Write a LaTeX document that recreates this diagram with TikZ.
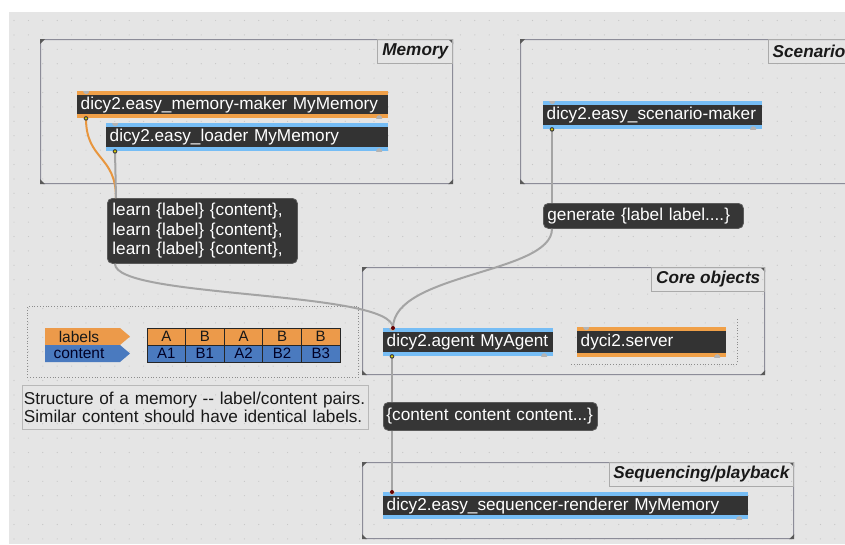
\documentclass[tikz,border=0pt]{standalone}
\usepackage{fontspec}
\setmainfont{Liberation Sans}
\usepackage{xcolor}

\definecolor{patchbg}{HTML}{E5E5E5}
\definecolor{griddot}{HTML}{C6C6C6}
\definecolor{objdark}{HTML}{333333}
\definecolor{objorange}{HTML}{F0A048}
\definecolor{objblue}{HTML}{76BDF5}
\definecolor{inletgray}{HTML}{B4B4B4}
\definecolor{panelline}{HTML}{8C8C98}
\definecolor{titleline}{HTML}{AAAAAA}
\definecolor{msgfill}{HTML}{363636}
\definecolor{msgline}{HTML}{5A5A5A}
\definecolor{cablegray}{HTML}{A4A4A4}
\definecolor{cableorange}{HTML}{E8963E}
\definecolor{taborange}{HTML}{EC9A4A}
\definecolor{tabblue}{HTML}{4A7ABF}
\definecolor{noteline}{HTML}{B8B8B8}

\newcommand\patchfont{\fontsize{17.2}{19.6}\selectfont}

\tikzset{
  maxobj/.style={anchor=north west, fill=#1, inner xsep=3.5pt, inner ysep=0pt,
    minimum height=28pt, text=white, align=left, font=\patchfont,
    path picture={
      \fill[objdark] ([yshift=-4pt]path picture bounding box.north west)
        rectangle ([yshift=4pt]path picture bounding box.south east);
      \fill[inletgray] ([xshift=9pt]path picture bounding box.north west) circle (3pt);
      \fill[inletgray] ([xshift=-9pt]path picture bounding box.south east) circle (3pt);
    }},
  msgbox/.style={anchor=north west, rounded corners=5pt, fill=msgfill, draw=msgline,
    line width=0.8pt, text=white, inner xsep=5pt, inner ysep=0pt, align=left,
    font=\patchfont},
  panel/.style={anchor=north west, draw=panelline, line width=1.2pt,
    rounded corners=3pt, inner sep=0pt},
  paneltitle/.style={anchor=north east, draw=titleline, line width=0.8pt,
    inner xsep=4.5pt, inner ysep=0pt, minimum height=24pt, text=black!90,
    font=\patchfont\bfseries\itshape},
  tabcell/.style={draw=black!85, line width=0.8pt, minimum width=38.6pt,
    minimum height=17pt, inner sep=0pt, text=black!90,
    font=\fontsize{15}{17}\selectfont},
  cable/.style={line width=2pt, cablegray},
}

\begin{document}
\begin{tikzpicture}[x=1pt, y=-1pt]
\useasboundingbox (0,0) rectangle (845,544);
\clip (0,0) rectangle (845,544);
\fill[white] (0,0) rectangle (845,544);
\fill[patchbg] (9,12) rectangle (845,544);

% dotted patcher grid
\foreach \i in {0,...,58} {
  \foreach \j in {0,...,36} {
    \fill[griddot] ({14+14.4*\i},{20.5+14.4*\j}) circle (0.6pt);
  }
}

% panels
\node[panel, minimum width=412pt, minimum height=144pt] (memory) at (40,39) {};
\node[panel, minimum width=329pt, minimum height=144pt] (scenario) at (520,39) {};
\node[panel, minimum width=402pt, minimum height=107pt] (core) at (362,267) {};
\node[panel, minimum width=431pt, minimum height=76pt] (seq) at (362,462) {};
\foreach \p in {memory,scenario,core,seq} {
  \fill[black!65] (\p.north west) -- ++(5,0) -- ++(-5,5) -- cycle;
  \fill[black!65] (\p.south west) -- ++(5,0) -- ++(-5,-5) -- cycle;
  \fill[black!65] (\p.north east) -- ++(-5,0) -- ++(5,5) -- cycle;
  \fill[black!65] (\p.south east) -- ++(-5,0) -- ++(5,-5) -- cycle;
}
\node[paneltitle] (memtitle) at (memory.north east) {Memory};
\node[paneltitle] (scentitle) at (scenario.north east) {Scenario};
\node[paneltitle] (coretitle) at (core.north east) {Core objects};
\node[paneltitle] (seqtitle) at (seq.north east) {Sequencing/playback};

% memory structure sketch
\node[anchor=north west, draw=black!45, dotted, line width=0.8pt, inner sep=0pt,
  minimum width=331pt, minimum height=71pt] (structure) at (27,306) {};
\fill[taborange] (45,328) -- (120,328) -- (130,336.5) -- (120,345) -- (45,345) -- cycle;
\fill[tabblue] (45,345) -- (120,345) -- (130,353.5) -- (120,362) -- (45,362) -- cycle;
\node[text=black!90, font=\fontsize{15.5}{17}\selectfont] (lbltext) at (79,336.5) {labels};
\node[text=black!85!blue, font=\fontsize{15.5}{17}\selectfont] (cnttext) at (79,353.5) {content};
\foreach \t [count=\i] in {A,B,A,B,B} {
  \node[tabcell, fill=taborange] (lab\i) at ({147+38.6*(\i-0.5)},336.5) {\t};
}
\foreach \t [count=\i] in {A1,B1,A2,B2,B3} {
  \node[tabcell, fill=tabblue, text=black!85!blue] (cnt\i) at ({147+38.6*(\i-0.5)},353.5) {\t};
}
\node[anchor=north west, draw=noteline, line width=0.8pt, inner xsep=1.5pt, inner ysep=0pt,
  minimum height=44pt, text width=343pt, align=left, text=black!90,
  font=\fontsize{17.2}{18.5}\selectfont] (note) at (22,385)
  {Structure of a memory -{}- label/content pairs.\\Similar content should have identical labels.};

% objects
\node[maxobj=objorange, text width=304pt, minimum height=27pt] (maker) at (77,91) {dicy2.easy\_memory-maker MyMemory};
\node[maxobj=objblue, text width=275pt] (loader) at (106,123) {dicy2.easy\_loader MyMemory};
\node[maxobj=objblue, text width=212pt] (scenmaker) at (543,101) {dicy2.easy\_scenario-maker};
\node[maxobj=objblue, text width=163pt] (agent) at (383,328) {dicy2.agent MyAgent};
\node[maxobj=objorange, text width=142pt, minimum height=30pt] (server) at (577,327) {dyci2.server};
\node[maxobj=objblue, text width=358pt, minimum height=27pt] (seqrend) at (383,492) {dicy2.easy\_sequencer-renderer MyMemory};
\draw[black!45, dotted, line width=0.8pt] (571,364) -- (737,364) -- (737,318);

% messages
\node[msgbox, text width=180pt, minimum height=65pt] (learn) at (107,198)
  {learn \{label\} \{content\},\\learn \{label\} \{content\},\\learn \{label\} \{content\},};
\node[msgbox, text width=192pt, inner xsep=4pt, minimum height=25pt] (generate) at (543,203) {generate \{label label....\}};
\node[msgbox, text width=208pt, inner xsep=3pt, minimum height=28pt] (contentmsg) at (383,402) {\{content content content...\}};

% patch cords
\coordinate (makerout) at ([xshift=9pt]maker.south west);
\coordinate (loaderout) at ([xshift=9pt]loader.south west);
\coordinate (learnin) at ([xshift=9pt]learn.north west);
\coordinate (learnout) at ([xshift=8pt]learn.south west);
\coordinate (scenout) at ([xshift=9pt]scenmaker.south west);
\coordinate (genin) at ([xshift=9pt]generate.north west);
\coordinate (genout) at ([xshift=9pt]generate.south west);
\coordinate (agentin) at ([xshift=10pt]agent.north west);
\coordinate (agentout) at ([xshift=9pt]agent.south west);
\coordinate (contin) at ([xshift=9pt]contentmsg.north west);
\coordinate (contout) at ([xshift=9pt]contentmsg.south west);
\coordinate (seqin) at ([xshift=9pt]seqrend.north west);

\draw[cable, cableorange] (makerout) .. controls +(0,42) and +(0,-43) .. (learnin);
\draw[cable] (loaderout) -- (learnin);
\draw[cable] (learnout) .. controls +(0,35) and +(0,-38) .. (agentin);
\draw[cable] (scenout) -- (genin);
\draw[cable] (genout) .. controls +(0,45) and +(0,-55) .. (agentin);
\draw[cable] (agentout) -- (contin);
\draw[cable] (contout) -- (seqin);
\foreach \c in {makerout,loaderout,scenout,agentout} {
  \fill[black!75] (\c) circle (2.3pt);
  \fill[yellow!70!olive] (\c) circle (1.2pt);
}
\foreach \c in {agentin,seqin} {
  \fill[black!60!red] (\c) circle (2pt);
}
\end{tikzpicture}
\end{document}
